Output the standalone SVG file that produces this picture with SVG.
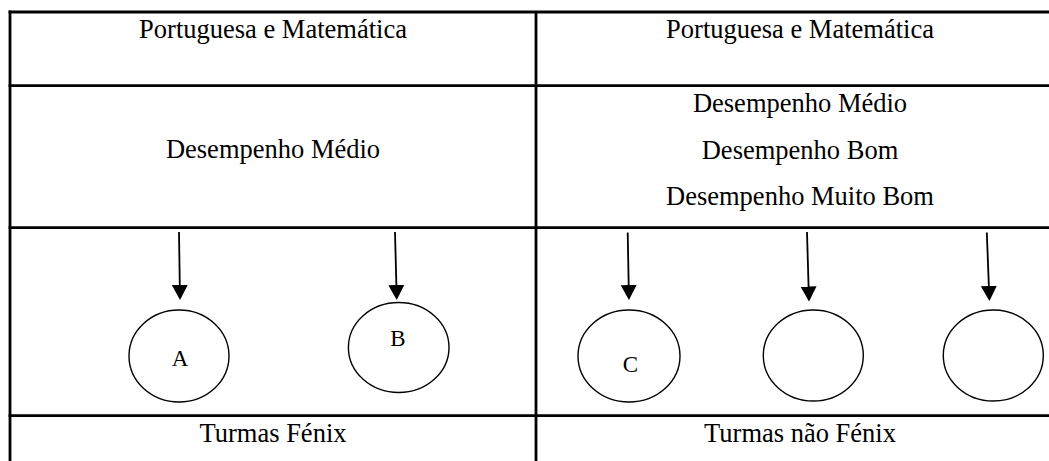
<svg xmlns="http://www.w3.org/2000/svg" width="1049" height="461" viewBox="0 0 1049 461">
<style>
.grid{stroke:#000;stroke-width:2.8;fill:none}
.t{font-size:26.5px;fill:#000;text-anchor:middle}
.l{font-size:23px;fill:#000;text-anchor:middle}
.node{fill:#fff;stroke:#000;stroke-width:1.4}
.arrow{stroke:#000;stroke-width:1.8;fill:none}
</style>
<defs>
<marker id="ah" markerUnits="userSpaceOnUse" markerWidth="17" markerHeight="18" viewBox="0 -9 17 18" refX="1" refY="0" orient="auto">
<path d="M0,-8 L15,0 L0,8 z" fill="#000"/>
</marker>
</defs>
<rect width="1049" height="461" fill="#fff"/>
<g id="table">
<line class="grid" x1="8.6" y1="12" x2="1049" y2="12"/>
<line class="grid" x1="8.6" y1="85.7" x2="1049" y2="85.7"/>
<line class="grid" x1="8.6" y1="227.7" x2="1049" y2="227.7"/>
<line class="grid" x1="8.6" y1="415.7" x2="1049" y2="415.7"/>
<line class="grid" x1="10" y1="10.6" x2="10" y2="461"/>
<line class="grid" x1="536" y1="12" x2="536" y2="461"/>
</g>
<g font-family="Liberation Serif, Times New Roman, DejaVu Serif, serif">
<g id="cell-left-header"><text class="t" x="273" y="38">Portuguesa e Matemática</text></g>
<g id="cell-right-header"><text class="t" x="800" y="38">Portuguesa e Matemática</text></g>
<g id="cell-left-level"><text class="t" x="273" y="158">Desempenho Médio</text></g>
<g id="cell-right-level">
<text class="t" x="800" y="111.5">Desempenho Médio</text>
<text class="t" x="800" y="159">Desempenho Bom</text>
<text class="t" x="800" y="204.5">Desempenho Muito Bom</text>
</g>
<g id="cell-left-footer"><text class="t" x="273" y="442">Turmas Fénix</text></g>
<g id="cell-right-footer"><text class="t" x="800" y="442">Turmas não Fénix</text></g>
</g>
<g id="connectors">
<line class="arrow" x1="179" y1="232" x2="179.8" y2="286" marker-end="url(#ah)"/>
<line class="arrow" x1="395" y1="232" x2="396.4" y2="286" marker-end="url(#ah)"/>
<line class="arrow" x1="627.7" y1="232.5" x2="628.7" y2="286" marker-end="url(#ah)"/>
<line class="arrow" x1="807" y1="232" x2="808.6" y2="287.5" marker-end="url(#ah)"/>
<line class="arrow" x1="986.8" y1="232.5" x2="988.9" y2="287" marker-end="url(#ah)"/>
</g>
<g font-family="Liberation Serif, Times New Roman, DejaVu Serif, serif">
<g id="node-A"><ellipse class="node" cx="179" cy="356" rx="50" ry="46"/><text class="l" x="180" y="366">A</text></g>
<g id="node-B"><ellipse class="node" cx="398.7" cy="347.5" rx="50.3" ry="45"/><text class="l" x="398" y="345.5">B</text></g>
<g id="node-C"><ellipse class="node" cx="629" cy="356" rx="51" ry="46"/><text class="l" x="630.5" y="371.5">C</text></g>
<g id="node-4"><ellipse class="node" cx="813.3" cy="355.5" rx="50" ry="45.5"/></g>
<g id="node-5"><ellipse class="node" cx="993.3" cy="355.5" rx="50" ry="45.5"/></g>
</g>
</svg>
